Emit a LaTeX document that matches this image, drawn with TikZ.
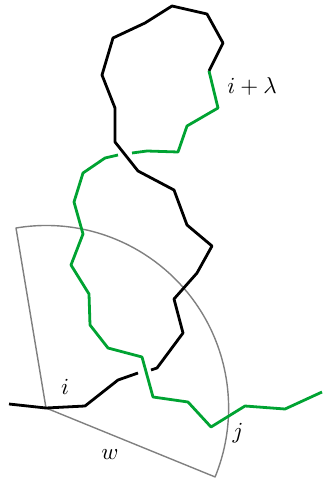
\documentclass[tikz,border=0pt]{standalone}
\definecolor{pathgreen}{RGB}{0,163,50}
\definecolor{wedgegray}{RGB}{128,128,128}
\begin{document}
\begin{tikzpicture}[x=1pt,y=-1pt,
  walk/.style={line width=2.8pt,line join=round,line cap=butt},
  blackwalk/.style={walk,black},
  greenwalk/.style={walk,pathgreen},
  wedge/.style={line width=1.4pt,wedgegray,line join=round},
  lbl/.style={inner sep=0pt,scale=2.3}]
\useasboundingbox (0,0) rectangle (322,481);
% wedge
\coordinate (c) at (46,408);
\coordinate (a) at (16,228);
\draw[wedge] (a) arc[start angle=-99.5,end angle=22.2,radius=182.5] -- (c) -- cycle;
% black walk
\draw[blackwalk] (9,404) -- (46,408) -- (85,406) -- (118,380) -- (138,373);
\draw[blackwalk] (151,370) -- (157,368) -- (183,333) -- (174,299) -- (197,273) -- (212,246)
  -- (187,225) -- (174,190) -- (138,171) -- (115,142) -- (115,108) -- (102,75)
  -- (113,38) -- (145,23) -- (172,6) -- (207,14) -- (223,43) -- (209,71);
% green walk
\draw[greenwalk] (209,71) -- (218,108) -- (187,126) -- (178,152) -- (147,151) -- (132,153);
\draw[greenwalk] (118,155) -- (105,158) -- (83,173) -- (74,202) -- (83,234) -- (71,265)
  -- (89,294) -- (90,325) -- (108,348) -- (142,357) -- (153,397) -- (188,402)
  -- (211,427) -- (245,406) -- (285,409) -- (322,392);
% labels
\node[lbl] (lil) at (252,86) {$i+\lambda$};
\node[lbl] (li) at (65,387) {$i$};
\node[lbl] (lw) at (110,455) {$w$};
\node[lbl] (lj) at (238,433) {$j$};
\end{tikzpicture}
\end{document}
